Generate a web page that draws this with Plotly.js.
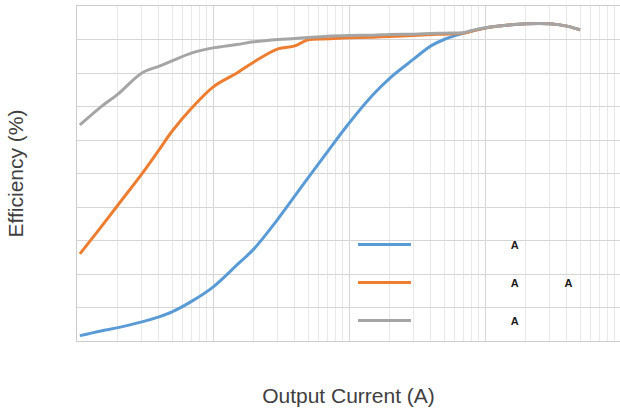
<!DOCTYPE html>
<html>
<head>
<meta charset="utf-8">
<script src="https://cdn.plot.ly/plotly-3.0.1.min.js"></script>
<style>
  html, body { margin: 0; padding: 0; background: #fff; }
  #chart { width: 620px; height: 416px; }
</style>
</head>
<body>
<div id="chart"></div>
<script>
// Corriente de salida (A), eje logarítmico
const current = [0.00105, 0.0015, 0.002, 0.003, 0.004, 0.005, 0.007, 0.01, 0.015, 0.02,
  0.03, 0.04, 0.05, 0.07, 0.1, 0.15, 0.2, 0.3, 0.4, 0.5, 0.7, 0.8, 1, 1.5, 2, 3, 4, 5];

// Eficiencia (%) de cada curva
const effBlue = [1.6, 3.0, 4.0, 5.7, 7.2, 8.7, 11.9, 16.1, 22.7, 27.5,
  36.4, 43.3, 48.7, 56.7, 65.0, 73.5, 78.5, 84.2, 88.1, 90.0, 91.9, 92.5, 93.4, 94.3, 94.7, 94.7, 94.0, 92.9];
const effOrange = [26.0, 34.0, 40.6, 49.9, 57.0, 62.6, 69.6, 75.8, 80.0, 83.3,
  87.2, 88.1, 89.9, 90.2, 90.5, 90.7, 90.9, 91.2, 91.5, 91.6, 91.9, 92.5, 93.4, 94.3, 94.7, 94.7, 94.0, 92.9];
const effGray = [64.5, 69.9, 73.7, 80.0, 82.0, 83.6, 86.0, 87.5, 88.5, 89.3,
  90.0, 90.3, 90.6, 91.0, 91.2, 91.3, 91.5, 91.6, 91.8, 91.9, 92.1, 92.7, 93.5, 94.3, 94.7, 94.7, 94.0, 92.9];

// Textos de la leyenda
const nb = '\u00a0';
const legendNames = [
  nb.repeat(31) + 'A',
  nb.repeat(31) + 'A' + nb.repeat(15) + 'A',
  nb.repeat(31) + 'A'
];
const colors = ['#5B9BD5', '#ED7D31', '#A5A5A5'];
const series = [effBlue, effOrange, effGray];

const traces = series.map((y, i) => ({
  x: current,
  y: y,
  mode: 'lines',
  name: legendNames[i],
  legendgroup: 'g' + i,
  line: { color: colors[i], width: 3, shape: 'spline', smoothing: 1 },
  hoverinfo: 'skip'
}));

const font = 'Liberation Sans, Arial, sans-serif';

const layout = {
  width: 620,
  height: 416,
  margin: { l: 77, r: 0, t: 6, b: 75 },
  paper_bgcolor: '#ffffff',
  plot_bgcolor: '#ffffff',
  font: { family: font, color: '#404040' },
  showlegend: true,
  legend: {
    x: (353 - 77) / 543, xanchor: 'left',
    y: (341 - 230) / 335, yanchor: 'top',
    bgcolor: 'rgba(0,0,0,0)',
    traceorder: 'grouped',
    tracegroupgap: 19,
    itemwidth: 53,
    font: { family: font, size: 11, color: '#1a1a1a', weight: 'bold' }
  },
  xaxis: {
    type: 'log',
    range: [-3, -3 + 543 / 136],
    dtick: 1,
    showticklabels: false,
    ticks: '',
    showgrid: true,
    gridcolor: '#d6d6d6',
    gridwidth: 1,
    minor: { dtick: 'D1', showgrid: true, gridcolor: '#e8e8e8', gridwidth: 1, ticks: '' },
    showline: true, mirror: true, linecolor: '#cccccc', linewidth: 1,
    zeroline: false,
    title: { text: 'Output Current (A)', font: { size: 21, color: '#404040' }, standoff: 47 }
  },
  yaxis: {
    range: [0, 100],
    dtick: 10,
    showticklabels: false,
    ticks: '',
    showgrid: true,
    gridcolor: '#d6d6d6',
    gridwidth: 1,
    showline: true, linecolor: '#cccccc', linewidth: 1,
    zeroline: false,
    title: { text: 'Efficiency (%)', font: { size: 21, color: '#404040' }, standoff: 46 }
  }
};

Plotly.newPlot('chart', traces, layout, { staticPlot: true, displayModeBar: false });
</script>
</body>
</html>
